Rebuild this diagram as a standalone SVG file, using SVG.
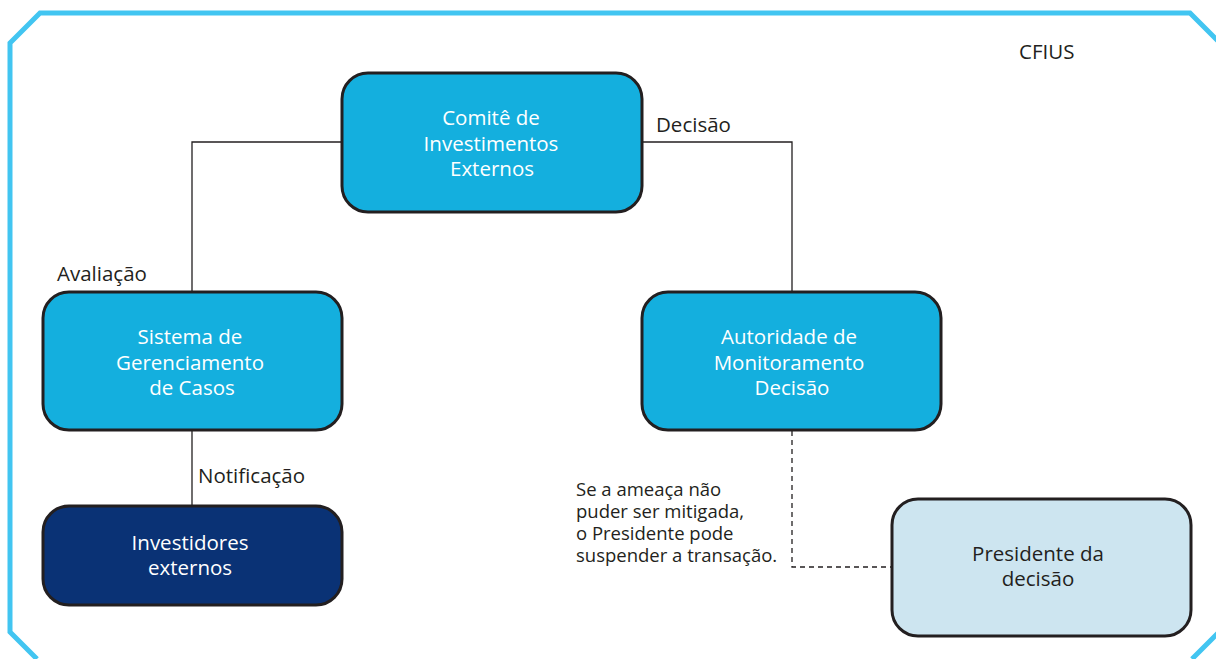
<svg xmlns="http://www.w3.org/2000/svg" width="1216" height="659" viewBox="0 0 1216 659">
<style>
.box{stroke:#231f20;stroke-width:3}
.mid{fill:#14afde}
.dark{fill:#0a3275}
.light{fill:#cde5f0}
.t{font-family:"Open Sans","Noto Sans",sans-serif;font-size:20.5px;fill:#ffffff;text-anchor:middle}
.td{fill:#231f20}
.lbl{font-family:"Open Sans","Noto Sans",sans-serif;font-size:20.5px;fill:#231f20}
.note{font-family:"Open Sans","Noto Sans",sans-serif;font-size:18.5px;fill:#231f20}
.ln{fill:none;stroke:#231f20;stroke-width:1.3}
.dash{stroke-dasharray:5,4}
</style>
<rect width="1216" height="659" fill="#ffffff"/>
<path d="M37,659 L10,632 L10,43 L40,13 L1190,13 L1218,41 M1220,631 L1192,659" fill="none" stroke="#42c5f1" stroke-width="5"/>
<g id="connectors">
<path class="ln" d="M342,142 H192 V292"/>
<path class="ln" d="M642,142 H792 V292"/>
<path class="ln" d="M192,431 V505"/>
<path class="ln dash" d="M792,431 V567 H891"/>
</g>
<g id="comite">
<rect class="box mid" x="342" y="73" width="300" height="139" rx="26"/>
<text class="t" x="491" y="125">Comitê de</text>
<text class="t" x="491" y="151">Investimentos</text>
<text class="t" x="492" y="176">Externos</text>
</g>
<g id="sistema">
<rect class="box mid" x="43" y="292" width="299" height="138" rx="26"/>
<text class="t" x="190" y="344">Sistema de</text>
<text class="t" x="190" y="370">Gerenciamento</text>
<text class="t" x="192" y="395">de Casos</text>
</g>
<g id="autoridade">
<rect class="box mid" x="642" y="292" width="299" height="138" rx="26"/>
<text class="t" x="789" y="344">Autoridade de</text>
<text class="t" x="789" y="370">Monitoramento</text>
<text class="t" x="792" y="395">Decisão</text>
</g>
<g id="investidores">
<rect class="box dark" x="43" y="506" width="299" height="99" rx="26"/>
<text class="t" x="190" y="550">Investidores</text>
<text class="t" x="190" y="575">externos</text>
</g>
<g id="presidente">
<rect class="box light" x="892" y="499" width="299" height="137" rx="26"/>
<text class="t td" x="1038" y="561">Presidente da</text>
<text class="t td" x="1038" y="586">decisão</text>
</g>
<g id="labels">
<text class="lbl" x="656" y="132">Decisão</text>
<text class="lbl" x="57" y="281">Avaliação</text>
<text class="lbl" x="198" y="483">Notificação</text>
<text class="lbl" x="1019" y="59">CFIUS</text>
<text class="note" x="576" y="496">Se a ameaça não</text>
<text class="note" x="576" y="518">puder ser mitigada,</text>
<text class="note" x="576" y="540">o Presidente pode</text>
<text class="note" x="576" y="562">suspender a transação.</text>
</g>
</svg>
